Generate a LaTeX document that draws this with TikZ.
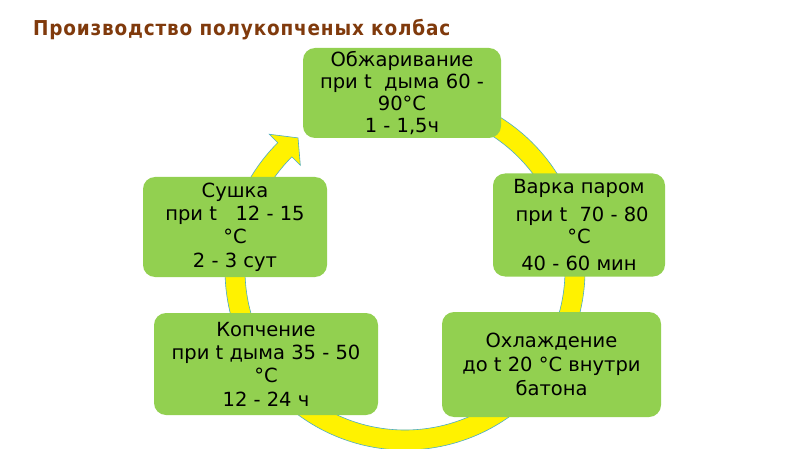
\documentclass[tikz,border=0pt]{standalone}
\usepackage{fontspec}
\setmainfont{DejaVu Sans}
\newfontfamily\titlefont{DejaVu Sans Condensed}[LetterSpace=4]
\usetikzlibrary{calc}
\definecolor{boxgreen}{RGB}{146,208,80}
\definecolor{titlebrown}{RGB}{128,58,12}
\definecolor{ringline}{RGB}{75,172,198}
\tikzset{
  stagebox/.style={fill=boxgreen, rounded corners=12pt, align=center, inner sep=0pt,
    font=\fontsize{19.5}{23.3}\selectfont, text=black},
  ring/.style={fill=yellow, draw=ringline, line width=0.6pt, line join=miter}
}
\begin{document}
\begin{tikzpicture}[x=1pt,y=-1pt]
\useasboundingbox (0,0) rectangle (800,449);
\fill[white] (0,0) rectangle (800,449);
\node[anchor=base west, inner sep=0pt, font=\titlefont\bfseries\fontsize{20.5}{22}\selectfont, text=titlebrown] (title) at (33,35.5) {Производство полукопченых колбас};
\coordinate (c) at (405,270);
\path[ring] ($(c)+(-100:180)$) arc[start angle=-100, end angle=225, radius=180]
  -- ($(c)+(225:192)$) -- ($(c)+(231:170)$) -- ($(c)+(225:148)$) -- ($(c)+(225:160)$)
  arc[start angle=225, end angle=-100, radius=160] -- cycle;
\node[stagebox, minimum width=198pt, minimum height=90pt, font=\fontsize{19.5}{22.2}\selectfont] (fry) at (402,93)
  {Обжаривание\\при t\ \ дыма 60 -\\90°C\\1 - 1,5ч};
\node[stagebox, minimum width=172pt, minimum height=103pt, font=\fontsize{19.5}{21.7}\selectfont] (boil) at (579,225)
  {Варка паром\\[6pt]\ при t\ \ 70 - 80\\°C\\[5.5pt]40 - 60 мин};
\node[stagebox, minimum width=219pt, minimum height=105pt, font=\fontsize{19.5}{23.7}\selectfont] (cool) at (551.5,364.5)
  {Охлаждение\\до t 20 °C внутри\\батона};
\node[stagebox, minimum width=224pt, minimum height=102pt] (smoke) at (266,364)
  {Копчение\\при t дыма 35 - 50\\°C\\12 - 24 ч};
\node[stagebox, minimum width=184pt, minimum height=100pt] (dry) at (235,227)
  {Сушка\\при t\ \ \ 12 - 15\\°C\\2 - 3 сут};
\end{tikzpicture}
\end{document}
